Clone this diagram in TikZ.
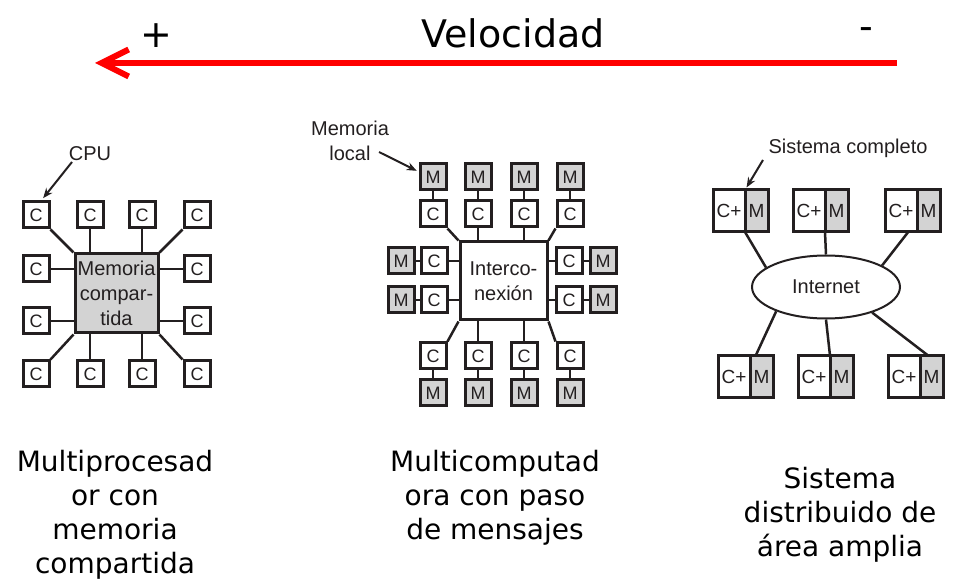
\documentclass[tikz,border=0pt]{standalone}
\usepackage{fontspec}
\setmainfont{DejaVu Sans}
\newfontfamily\arialfont{Liberation Sans}
\usetikzlibrary{arrows.meta,shapes.geometric,calc}
\definecolor{boxgray}{RGB}{211,211,211}
\definecolor{inkgray}{RGB}{35,31,32}

\begin{document}
\begin{tikzpicture}[x=1pt, y=-1pt,
    cpu/.style={draw=inkgray, line width=3pt, fill=white, text=inkgray, minimum width=26pt, minimum height=26pt, inner sep=0pt, font=\arialfont\fontsize{18}{20}\selectfont},
    mem/.style={cpu, fill=boxgray},
    hub/.style={draw=inkgray, line width=3pt, text=inkgray, align=center, inner sep=1pt, font=\arialfont\fontsize{20}{25}\selectfont},
    sysc/.style={cpu, outer sep=0pt, minimum width=32pt, minimum height=42pt, font=\arialfont\fontsize{19}{22}\selectfont},
    sysm/.style={sysc, fill=boxgray, minimum width=23pt},
    link/.style={draw=inkgray, line width=2.5pt},
    callout/.style={draw=inkgray, line width=2pt, -{Stealth[length=10pt,width=8pt]}},
    note/.style={text=inkgray, align=center, inner sep=1pt, font=\arialfont\fontsize{20}{25}\selectfont},
    headtext/.style={anchor=base, inner sep=0pt, font=\fontsize{38}{44}\selectfont},
    captext/.style={align=center, font=\fontsize{28}{34}\selectfont},
    speedline/.style={draw=red, line width=6pt, -{Straight Barb[length=27pt,width=27pt]}}]
    \useasboundingbox (0,0) rectangle (970,585);

    % Speed scale
    \node[headtext] (speedlbl) at (513,48) {Velocidad};
    \node[headtext] (fastlbl) at (156,48) {+};
    \node[headtext] (slowlbl) at (866,40) {-};
    \coordinate (slow) at (897,63);
    \coordinate (fast) at (95,63);
    \draw[speedline] (slow) -- (fast);

    % Shared memory multiprocessor
    \node[hub, fill=boxgray, minimum width=83pt, minimum height=79pt] (shmem) at (116.5,293.5) {Memoria\\compar-\\tida};
    \node[cpu] (ct1) at (36,215) {C};
    \node[cpu] (ct2) at (90,215) {C};
    \node[cpu] (ct3) at (142,215) {C};
    \node[cpu] (ct4) at (197,215) {C};
    \node[cpu] (cl1) at (36,269) {C};
    \node[cpu] (cl2) at (36,321) {C};
    \node[cpu] (cr1) at (197,269) {C};
    \node[cpu] (cr2) at (197,321) {C};
    \node[cpu] (cb1) at (36,374) {C};
    \node[cpu] (cb2) at (90,374) {C};
    \node[cpu] (cb3) at (142,374) {C};
    \node[cpu] (cb4) at (197,374) {C};
    \node[note] (cpulbl) at (90,154) {CPU};
    \coordinate (cputail) at (72,162);

    \draw[link] (ct1.south east) -- (shmem.north west);
    \draw[link] (ct2.south) -- (ct2.south |- shmem.north);
    \draw[link] (ct3.south) -- (ct3.south |- shmem.north);
    \draw[link] (ct4.south west) -- (shmem.north east);
    \draw[link] (cl1.east) -- (cl1.east -| shmem.west);
    \draw[link] (cl2.east) -- (cl2.east -| shmem.west);
    \draw[link] (cr1.west) -- (cr1.west -| shmem.east);
    \draw[link] (cr2.west) -- (cr2.west -| shmem.east);
    \draw[link] (cb1.north east) -- (shmem.south west);
    \draw[link] (cb2.north) -- (cb2.north |- shmem.south);
    \draw[link] (cb3.north) -- (cb3.north |- shmem.south);
    \draw[link] (cb4.north west) -- (shmem.south east);
    \draw[callout, shorten >=3pt] (cputail) -- (ct1.70);

    % Message passing multicomputer
    \node[hub, fill=white, minimum width=87pt, minimum height=78pt] (icnx) at (503.5,281) {Interco-\\nexión};
    \node[mem] (mt1) at (433,177) {M};
    \node[mem] (mt2) at (478,177) {M};
    \node[mem] (mt3) at (524,177) {M};
    \node[mem] (mt4) at (570,177) {M};
    \node[cpu] (kt1) at (433,214) {C};
    \node[cpu] (kt2) at (478,214) {C};
    \node[cpu] (kt3) at (524,214) {C};
    \node[cpu] (kt4) at (570,214) {C};
    \node[mem] (ml1) at (401,261) {M};
    \node[cpu] (kl1) at (434,261) {C};
    \node[mem] (ml2) at (401,300) {M};
    \node[cpu] (kl2) at (434,300) {C};
    \node[cpu] (kr1) at (569,261) {C};
    \node[mem] (mr1) at (603,261) {M};
    \node[cpu] (kr2) at (569,300) {C};
    \node[mem] (mr2) at (603,300) {M};
    \node[cpu] (kb1) at (433,356) {C};
    \node[cpu] (kb2) at (478,356) {C};
    \node[cpu] (kb3) at (524,356) {C};
    \node[cpu] (kb4) at (570,356) {C};
    \node[mem] (mb1) at (433,393) {M};
    \node[mem] (mb2) at (478,393) {M};
    \node[mem] (mb3) at (524,393) {M};
    \node[mem] (mb4) at (570,393) {M};
    \node[note] (memlbl) at (350,140.5) {Memoria\\local};
    \coordinate (memtail) at (379,152);

    \draw[link] (mt1.south) -- (kt1.north);
    \draw[link] (mt2.south) -- (kt2.north);
    \draw[link] (mt3.south) -- (kt3.north);
    \draw[link] (mt4.south) -- (kt4.north);
    \draw[link] (kt1.south east) -- (icnx.north west);
    \draw[link] (kt2.south) -- (kt2.south |- icnx.north);
    \draw[link] (kt3.south) -- (kt3.south |- icnx.north);
    \draw[link] (kt4.south west) -- (icnx.north east);
    \draw[link] (ml1.east) -- (kl1.west);
    \draw[link] (ml2.east) -- (kl2.west);
    \draw[link] (kl1.east) -- (kl1.east -| icnx.west);
    \draw[link] (kl2.east) -- (kl2.east -| icnx.west);
    \draw[link] (kr1.west) -- (kr1.west -| icnx.east);
    \draw[link] (kr2.west) -- (kr2.west -| icnx.east);
    \draw[link] (kr1.east) -- (mr1.west);
    \draw[link] (kr2.east) -- (mr2.west);
    \draw[link] (kb1.north east) -- (icnx.south west);
    \draw[link] (kb2.north) -- (kb2.north |- icnx.south);
    \draw[link] (kb3.north) -- (kb3.north |- icnx.south);
    \draw[link] (kb4.north west) -- (icnx.south east);
    \draw[link] (kb1.south) -- (mb1.north);
    \draw[link] (kb2.south) -- (mb2.north);
    \draw[link] (kb3.south) -- (mb3.north);
    \draw[link] (kb4.south) -- (mb4.north);
    \draw[callout, shorten >=2pt] (memtail) -- (mt1.160);

    % Wide area distributed system
    \node[ellipse, draw=inkgray, line width=2pt, minimum width=148pt, minimum height=63pt, inner sep=0pt, text=inkgray, font=\arialfont\fontsize{20}{24}\selectfont] (inet) at (826,287) {Internet};
    \node[sysc] (s1c) at (729,211) {C+};
    \node[sysm, anchor=west] (s1m) at (s1c.east) {M};
    \node[sysc] (s2c) at (809,211) {C+};
    \node[sysm, anchor=west] (s2m) at (s2c.east) {M};
    \node[sysc] (s3c) at (901,211) {C+};
    \node[sysm, anchor=west] (s3m) at (s3c.east) {M};
    \node[sysc] (s4c) at (734,376.5) {C+};
    \node[sysm, anchor=west] (s4m) at (s4c.east) {M};
    \node[sysc] (s5c) at (814,376.5) {C+};
    \node[sysm, anchor=west] (s5m) at (s5c.east) {M};
    \node[sysc] (s6c) at (904,376.5) {C+};
    \node[sysm, anchor=west] (s6m) at (s6c.east) {M};
    \node[note] (syslbl) at (848,148) {Sistema completo};
    \coordinate (systail) at (763,160);

    \draw[link] (s1c.south east) -- (inet.162);
    \draw[link] (s2c.south east) -- (inet.90);
    \draw[link] ($(s3c.south)!.45!(s3c.south east)$) -- (inet.21);
    \draw[link] ($(s4m.north west)!.25!(s4m.north east)$) -- (inet.206);
    \draw[link] (s5c.north east) -- (inet.270);
    \draw[link] ($(s6m.north west)!.35!(s6m.north east)$) -- (inet.331);
    \draw[callout, shorten >=3pt] (systail) -- (s1m.north west);

    % Captions
    \node[captext] (cap1) at (115,515) {Multiprocesad\\or con\\memoria\\compartida};
    \node[captext] (cap2) at (495,498) {Multicomputad\\ora con paso\\de mensajes};
    \node[captext] (cap3) at (840,515) {Sistema\\distribuido de\\área amplia};
\end{tikzpicture}
\end{document}
